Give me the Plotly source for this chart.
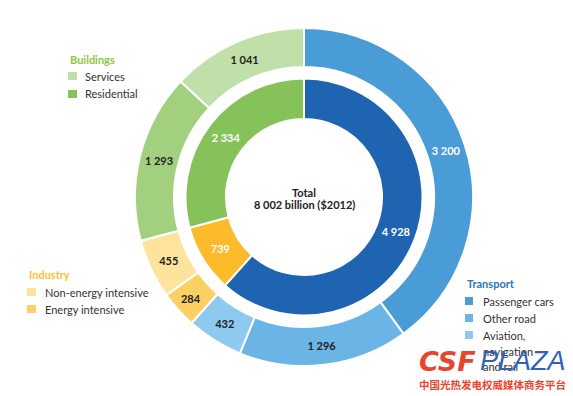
import plotly.graph_objects as go

# ---------------- data ----------------
inner_labels = ["Transport", "Industry", "Buildings"]
inner_values = [4928, 739, 2334]

outer_labels = ["Passenger cars", "Other road", "Aviation, navigation and rail",
                "Energy intensive", "Non-energy intensive", "Residential", "Services"]
outer_values = [3200, 1296, 432, 284, 455, 1293, 1041]

total_label = "8 002 billion ($2012)"

# ---------------- styles ----------------
inner_colors = ["#1f64b0", "#fbbb2a", "#86c25a"]
inner_text_colors = ["white", "white", "white"]
outer_colors = ["#4a9cd6", "#6ab4e6", "#8ecaf0", "#fcd062", "#fde39c", "#a2d07e", "#c1dfa8"]
outer_text_colors = ["white", "#222222", "#222222", "#222222", "#222222", "#222222", "#222222"]

W, H = 573, 396
FONT = "Lato"


def fmt(v):
    return f"{v:,}".replace(",", " ")


def dom(cx, cy, r):
    return dict(x=[(cx - r) / W, (cx + r) / W], y=[1 - (cy + r) / H, 1 - (cy - r) / H])


CX, CY = 304, 197

fig = go.Figure()
fig.add_trace(go.Pie(
    labels=outer_labels, values=outer_values, sort=False, direction="clockwise",
    rotation=0, hole=130 / 169, domain=dom(CX, CY, 169),
    marker=dict(colors=outer_colors, line=dict(color="white", width=2)),
    text=[fmt(v) for v in outer_values], textinfo="text", textposition="inside",
    insidetextorientation="horizontal",
    textfont=dict(family=FONT, size=11, color=outer_text_colors, weight="bold"),
    showlegend=False, hoverinfo="label+value",
))
fig.add_trace(go.Pie(
    labels=inner_labels, values=inner_values, sort=False, direction="clockwise",
    rotation=0, hole=78 / 118.5, domain=dom(CX, CY, 118.5),
    marker=dict(colors=inner_colors, line=dict(color="white", width=2)),
    text=[fmt(v) for v in inner_values], textinfo="text", textposition="inside",
    insidetextorientation="horizontal",
    textfont=dict(family=FONT, size=11, color=inner_text_colors, weight="bold"),
    showlegend=False, hoverinfo="label+value",
))

annotations = []
shapes = []


def px(x, y):
    return x / W, 1 - y / H


def txt(x, y, s, color="#333333", size=11, bold=False, xanchor="left", family=FONT):
    ax, ay = px(x, y)
    annotations.append(dict(x=ax, y=ay, xref="paper", yref="paper", text=s,
                            showarrow=False, xanchor=xanchor, yanchor="middle",
                            font=dict(family=family, size=size, color=color,
                                      weight="bold" if bold else "normal")))


def square(x0, y0, x1, y1, color):
    a0, b0 = px(x0, y0)
    a1, b1 = px(x1, y1)
    shapes.append(dict(type="rect", xref="paper", yref="paper", x0=a0, x1=a1, y0=b1, y1=b0,
                       fillcolor=color, line=dict(width=0)))


# center
txt(CX, 192, "Total", color="#222222", bold=True, xanchor="center")
txt(CX, 205, total_label, color="#222222", bold=True, xanchor="center")

# Buildings legend
txt(68, 59, "Buildings", color="#8dc641", bold=True)
square(68, 72, 77, 80, outer_colors[6])
txt(83, 76, outer_labels[6])
square(68, 90, 77, 98, inner_colors[2])
txt(83, 94, outer_labels[5])

# Industry legend
txt(27, 274, "Industry", color="#f9c03a", bold=True)
square(27, 288, 36, 296, outer_colors[4])
txt(43, 292, outer_labels[4])
square(27, 305, 36, 313, outer_colors[3])
txt(43, 309, outer_labels[3])

# Transport legend
txt(465, 283, "Transport", color="#2e75b6", bold=True)
square(465, 297, 473, 305, outer_colors[0])
txt(481, 301, outer_labels[0])
square(465, 314, 473, 322, outer_colors[1])
txt(481, 318, outer_labels[1])
square(465, 331, 473, 339, outer_colors[2])
txt(481, 335, "Aviation,")
txt(481, 351, "navigation")
txt(481, 366, "and rail")

# watermark
txt(417, 361, "<i>CSF</i>", color="#e8462c", size=27, bold=True, family="DejaVu Sans")
txt(478, 361, "<i>PLAZA</i>", color="#2f62b8", size=27, family="Liberation Sans")
txt(492, 384, "中国光热发电权威媒体商务平台", color="#e8462c", size=10.5, bold=True,
    family="Noto Sans CJK SC", xanchor="center")

fig.update_layout(
    width=W, height=H, margin=dict(l=0, r=0, t=0, b=0),
    paper_bgcolor="white", plot_bgcolor="white",
    annotations=annotations, shapes=shapes,
)

fig.write_html("out.html", config={"displayModeBar": False},
               post_script="document.body.style.margin='0';document.body.style.overflow='hidden';")
